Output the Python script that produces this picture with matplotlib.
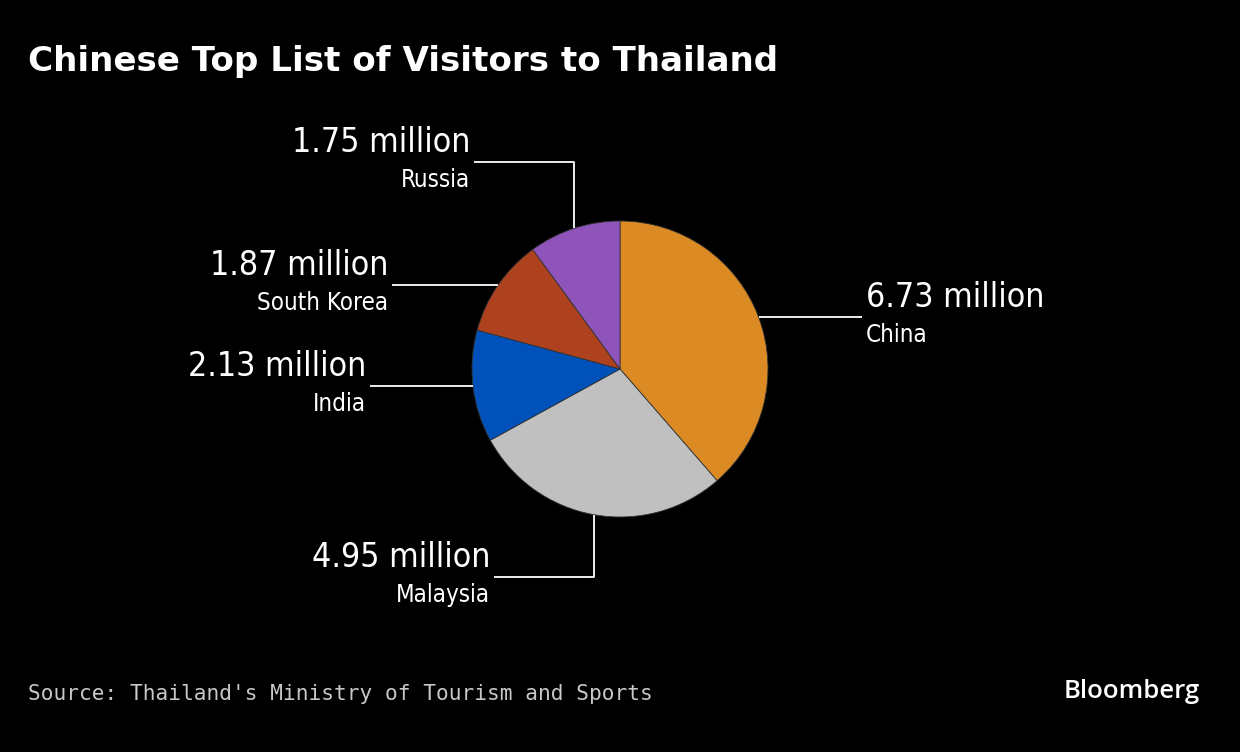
import matplotlib.pyplot as plt
import numpy as np

countries = ['China', 'Malaysia', 'India', 'South Korea', 'Russia']
visitors = [6.73, 4.95, 2.13, 1.87, 1.75]  # million
colors = ['#DB8A24', '#C0C0C0', '#0051BA', '#AE411E', '#8E54BA']

W, H = 1240, 752
cx, cy, r = 620, H - 369, 148

# elbow / label layout per slice
layout = {
    'China':       dict(turn=None, end=862, ha='left'),
    'Malaysia':    dict(turn=H - 577, end=494, ha='right'),
    'India':       dict(turn=None, end=370, ha='right'),
    'South Korea': dict(turn=None, end=392, ha='right'),
    'Russia':      dict(turn=H - 162, end=474, ha='right'),
}

fig = plt.figure(figsize=(12.4, 7.52), dpi=100, facecolor='black')
ax = fig.add_axes([0, 0, 1, 1])
ax.set_facecolor('black')

wedges, _ = ax.pie(visitors, colors=colors, startangle=90, counterclock=False,
                   center=(cx, cy), radius=r,
                   wedgeprops=dict(edgecolor='#333333', linewidth=0.6))
ax.set_xlim(0, W)
ax.set_ylim(0, H)
ax.set_aspect('equal')
ax.axis('off')

for w, name, val in zip(wedges, countries, visitors):
    mid = np.deg2rad((w.theta1 + w.theta2) / 2)
    x0 = cx + r * np.cos(mid)
    y0 = cy + r * np.sin(mid)
    lay = layout[name]
    if lay['turn'] is not None:
        xs = [x0, x0, lay['end']]
        ys = [y0, lay['turn'], lay['turn']]
        ly = lay['turn']
    else:
        xs = [x0, lay['end']]
        ys = [y0, y0]
        ly = y0
    ax.plot(xs, ys, color='white', lw=1.3, solid_capstyle='butt')
    tx = lay['end'] + 4 if lay['ha'] == 'left' else lay['end'] - 4
    ax.text(tx, ly + 3, f'{val:.2f} million', color='white', fontsize=24.3,
            fontstretch='condensed', ha=lay['ha'], va='bottom')
    ax.text(tx, ly - 6, name, color='white', fontsize=17.3,
            fontstretch='condensed', ha=lay['ha'], va='top')

fig.text(28 / W, 1 - 62 / H, 'Chinese Top List of Visitors to Thailand',
         color='white', fontsize=24.6, fontweight='bold', va='center', ha='left')
fig.text(28 / W, 1 - 694 / H, "Source: Thailand's Ministry of Tourism and Sports",
         color='#C8C8C8', fontsize=15.2, family='DejaVu Sans Mono',
         va='center', ha='left')
fig.text(1200 / W, 1 - 691 / H, 'Bloomberg', color='white', fontsize=18.5,
         fontweight='semibold', family='Open Sans', va='center', ha='right')

fig.savefig('out.png', dpi=100, facecolor='black')
